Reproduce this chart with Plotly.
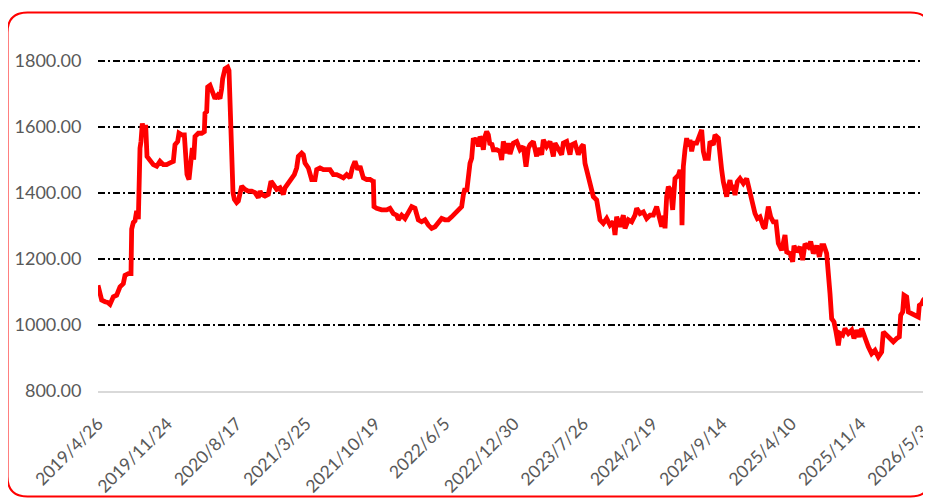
import plotly.graph_objects as go

# ---- data (category index of each observation, value) ----
obs_index = [
    0, 5, 11, 21, 29, 36, 41, 46, 56, 66, 76, 81, 91, 99, 101, 106, 111, 116, 121, 123,
    126, 129, 133, 139, 143, 147, 156, 166, 176, 186, 196, 206, 216, 226, 231, 239, 243, 251, 259, 263,
    267, 273, 279, 283, 287, 291, 301, 311, 319, 321, 326, 329, 336, 343, 351, 359, 366, 371, 374, 381,
    389, 393, 397, 401, 405, 409, 416, 421, 426, 431, 441, 451, 461, 471, 481, 486, 491, 501, 511, 519,
    526, 536, 546, 556, 561, 571, 581, 589, 596, 601, 611, 616, 621, 631, 641, 651, 656, 666, 676, 686,
    696, 706, 716, 726, 736, 746, 756, 763, 771, 779, 786, 796, 806, 816, 824, 826, 828, 836, 851, 866,
    876, 886, 896, 901, 911, 921, 931, 941, 951, 961, 971, 981, 991, 1001, 1011, 1021, 1031, 1041, 1051, 1061,
    1071, 1081, 1091, 1096, 1101, 1106, 1111, 1116, 1121, 1126, 1131, 1136, 1141, 1146, 1151, 1156, 1161, 1166, 1171, 1176,
    1181, 1186, 1196, 1206, 1211, 1216, 1226, 1231, 1236, 1246, 1256, 1266, 1276, 1284, 1291, 1296, 1306, 1316, 1321, 1331,
    1336, 1346, 1356, 1366, 1371, 1381, 1391, 1396, 1406, 1416, 1421, 1431, 1441, 1451, 1456, 1461, 1466, 1471, 1481, 1486,
    1496, 1501, 1506, 1516, 1526, 1536, 1546, 1551, 1556, 1566, 1576, 1581, 1591, 1601, 1611, 1616, 1626, 1636, 1646, 1656,
    1666, 1676, 1684, 1691, 1698, 1701, 1706, 1711, 1718, 1724, 1731, 1741, 1746, 1750, 1752, 1754, 1756, 1761, 1766, 1771,
    1776, 1781, 1786, 1796, 1806, 1811, 1816, 1821, 1831, 1836, 1846, 1851, 1861, 1866, 1871, 1876, 1886, 1891, 1896, 1901,
    1906, 1911, 1918, 1926, 1936, 1946, 1956, 1961, 1971, 1978, 1986, 1996, 2001, 2011, 2018, 2026, 2034, 2041, 2051, 2061,
    2066, 2076, 2084, 2088, 2096, 2106, 2114, 2121, 2131, 2138, 2146, 2156, 2164, 2171, 2178, 2186, 2191, 2196, 2201, 2208,
    2214, 2221, 2226, 2234, 2241, 2251, 2261, 2268, 2276, 2284, 2291, 2301, 2311, 2321, 2331, 2341, 2351, 2356, 2366, 2376,
    2386, 2396, 2404, 2408, 2414, 2418, 2426, 2431, 2441, 2451, 2461, 2464, 2471, 2476, 2484, 2491,
]
price = [
    1120, 1095, 1075, 1070, 1068, 1062, 1072, 1085, 1090, 1115, 1125, 1150, 1155, 1155, 1290, 1310, 1315, 1345, 1320, 1530,
    1535, 1555, 1610, 1575, 1605, 1510, 1500, 1485, 1480, 1495, 1485, 1485, 1490, 1495, 1545, 1555, 1580, 1575, 1575, 1515,
    1455, 1440, 1485, 1535, 1500, 1570, 1580, 1580, 1585, 1640, 1645, 1720, 1725, 1710, 1685, 1695, 1685, 1715, 1745, 1775,
    1780, 1770, 1640, 1445, 1400, 1380, 1370, 1375, 1405, 1420, 1410, 1405, 1405, 1400, 1385, 1405, 1395, 1390, 1395, 1435,
    1425, 1410, 1415, 1395, 1415, 1430, 1445, 1455, 1475, 1510, 1520, 1515, 1490, 1475, 1440, 1440, 1470, 1475, 1470, 1470,
    1470, 1455, 1455, 1450, 1445, 1455, 1445, 1475, 1495, 1470, 1480, 1445, 1440, 1440, 1435, 1440, 1358, 1353, 1348, 1348,
    1353, 1337, 1332, 1318, 1332, 1322, 1337, 1358, 1353, 1318, 1312, 1318, 1302, 1292, 1297, 1307, 1322, 1318, 1318, 1327,
    1337, 1348, 1358, 1393, 1413, 1403, 1448, 1489, 1504, 1565, 1555, 1565, 1540, 1570, 1560, 1530, 1570, 1585, 1575, 1545,
    1550, 1530, 1530, 1525, 1499, 1555, 1520, 1550, 1517, 1550, 1555, 1530, 1540, 1479, 1535, 1545, 1555, 1510, 1535, 1515,
    1560, 1540, 1555, 1510, 1550, 1535, 1515, 1550, 1555, 1515, 1545, 1550, 1515, 1540, 1545, 1489, 1469, 1443, 1413, 1388,
    1378, 1353, 1318, 1307, 1322, 1302, 1312, 1272, 1327, 1297, 1332, 1292, 1318, 1312, 1332, 1353, 1337, 1342, 1322, 1332,
    1332, 1358, 1322, 1297, 1330, 1292, 1388, 1418, 1408, 1348, 1443, 1453, 1469, 1440, 1302, 1460, 1479, 1530, 1565, 1540,
    1560, 1525, 1550, 1550, 1580, 1590, 1525, 1504, 1504, 1555, 1545, 1575, 1565, 1499, 1469, 1433, 1388, 1418, 1438, 1408,
    1423, 1393, 1433, 1443, 1428, 1443, 1398, 1378, 1337, 1322, 1327, 1297, 1292, 1358, 1327, 1312, 1312, 1247, 1226, 1272,
    1221, 1216, 1191, 1240, 1221, 1236, 1196, 1245, 1236, 1252, 1216, 1240, 1206, 1240, 1240, 1216, 1166, 1095, 1019, 1009,
    979, 938, 974, 969, 989, 974, 984, 959, 984, 964, 989, 959, 934, 913, 923, 903, 918, 979, 969, 954,
    949, 959, 964, 1029, 1039, 1090, 1085, 1039, 1034, 1029, 1024, 1059, 1064, 1075, 1085, 1080,
]
tick_index = [0, 208, 416, 624, 832, 1040, 1248, 1456, 1664, 1872, 2080, 2288, 2496]
tick_labels = [
    "2019/4/26", "2019/11/24", "2020/8/17", "2021/3/25", "2021/10/19", "2022/6/5",
    "2022/12/30", "2023/7/26", "2024/2/19", "2024/9/14", "2025/4/10", "2025/11/4", "2026/5/31",
]
y_ticks = [800, 1000, 1200, 1400, 1600, 1800]

# ---- layout geometry (page pixels; the figure sits 8px inside the page) ----
OFF = 8
W, H = 931, 498
PLOT_L, PLOT_R, PLOT_T, PLOT_B = 98, 931, 44, 391   # page coordinates
ML = PLOT_L - OFF
MR = W - (PLOT_R - OFF)
MT = PLOT_T - OFF
MB = H - (PLOT_B - OFF)
PW, PH = W - ML - MR, H - MT - MB
X_MAX = 2499


def px(x, y):
    fx = (x - OFF - ML) / PW
    fy = (H - MB - (y - OFF)) / PH
    return fx, fy


def rounded_rect(x0, y0, x1, y1, r):
    pts = []
    cmds = [
        ("M", x0 + r, y0), ("L", x1 - r, y0), ("Q", x1, y0, x1, y0 + r),
        ("L", x1, y1 - r), ("Q", x1, y1, x1 - r, y1), ("L", x0 + r, y1),
        ("Q", x0, y1, x0, y1 - r), ("L", x0, y0 + r), ("Q", x0, y0, x0 + r, y0),
    ]
    for c in cmds:
        if c[0] == "Q":
            a = px(c[1], c[2]); b = px(c[3], c[4])
            pts.append(f"Q {a[0]:.5f},{a[1]:.5f} {b[0]:.5f},{b[1]:.5f}")
        else:
            a = px(c[1], c[2])
            pts.append(f"{c[0]} {a[0]:.5f},{a[1]:.5f}")
    return " ".join(pts) + " Z"


font_family = "Lato, 'Open Sans', sans-serif"
grey = "#595959"

fig = go.Figure()
fig.add_trace(go.Scatter(
    x=obs_index, y=price, mode="lines",
    line=dict(color="#FF0000", width=4.8, shape="linear"),
    hoverinfo="skip", showlegend=False,
))

fig.update_layout(
    width=W, height=H, autosize=False,
    margin=dict(l=ML, r=MR, t=MT, b=MB, pad=0),
    paper_bgcolor="white", plot_bgcolor="white",
    font=dict(family=font_family, color=grey, size=17),
    showlegend=False,
    shapes=[dict(
        type="path", xref="paper", yref="paper",
        path=rounded_rect(7.5, 12.5, 930.5, 496.5, 20),
        line=dict(color="#FF0000", width=2), fillcolor="rgba(0,0,0,0)", layer="below",
    )],
)

fig.update_xaxes(
    range=[0, X_MAX], tickmode="array", tickvals=tick_index, ticktext=tick_labels,
    tickangle=-45, ticks="outside", ticklen=14, tickcolor="rgba(0,0,0,0)",
    ticklabeloverflow="allow",
    showgrid=False, zeroline=False, showline=True, linecolor="#D9D9D9", linewidth=1.5,
    tickfont=dict(family=font_family, size=17.5, color=grey), automargin=False,
)
fig.update_yaxes(
    range=[800, 1850], tickmode="array", tickvals=y_ticks, tickformat=".2f",
    ticks="outside", ticklen=12, tickcolor="rgba(0,0,0,0)",
    showgrid=True, gridcolor="#000000", gridwidth=1.5, griddash="7px,3px,2px,3px",
    zeroline=False, showline=False,
    tickfont=dict(family=font_family, size=18, color=grey), automargin=False,
)

fig.write_html("out.html")
